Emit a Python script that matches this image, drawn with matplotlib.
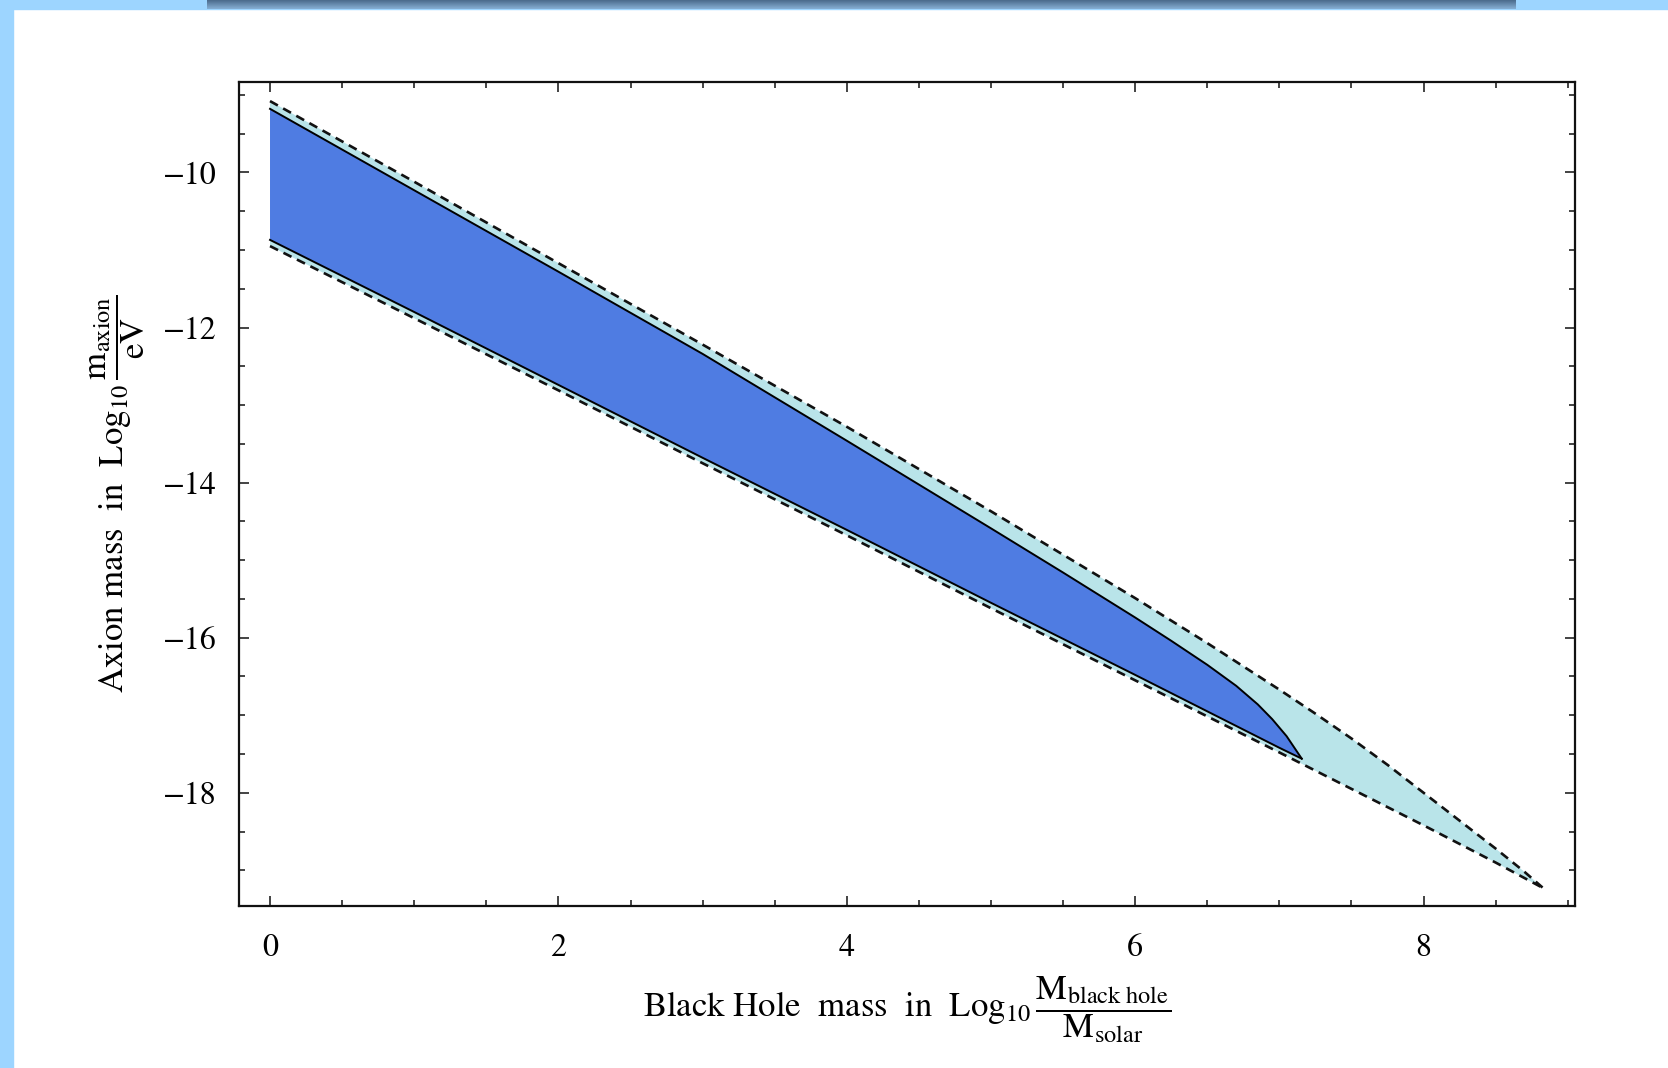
########## Axion mass window vs black hole mass ##########

import numpy as np
import matplotlib.pyplot as plt
from matplotlib.patches import Rectangle
from matplotlib.colors import LinearSegmentedColormap
from matplotlib.ticker import MultipleLocator

plt.rcParams['font.family'] = 'STIXGeneral'
plt.rcParams['mathtext.fontset'] = 'stix'

# inner (dark) band, solid boundaries
inner_up_x = [0, 1, 2, 3, 4, 5, 5.5, 6, 6.25, 6.5, 6.7, 6.85, 6.95, 7.05, 7.155]
inner_up_y = [-9.18, -10.23, -11.28, -12.34, -13.46, -14.59, -15.16, -15.74,
              -16.04, -16.35, -16.62, -16.86, -17.05, -17.27, -17.56]
inner_lo_x = [0, 1, 2, 3, 4, 5, 6, 7, 7.155]
inner_lo_y = [-10.87, -11.80, -12.74, -13.68, -14.61, -15.55, -16.48, -17.42, -17.56]

# outer (light) band, dashed boundaries
outer_up_x = [0, 1, 2, 3, 4, 5, 6, 6.5, 7, 7.25, 7.5, 7.75, 8, 8.5, 8.7, 8.83]
outer_up_y = [-9.08, -10.12, -11.17, -12.22, -13.28, -14.37, -15.49, -16.07,
              -16.67, -16.98, -17.30, -17.64, -18.00, -18.72, -19.02, -19.23]
outer_lo_x = [0, 1, 2, 3, 4, 5, 6, 7, 8, 8.5, 8.83]
outer_lo_y = [-10.95, -11.88, -12.81, -13.75, -14.68, -15.62, -16.55, -17.48,
              -18.42, -18.90, -19.23]

x_ticks = [0, 2, 4, 6, 8]
y_ticks = [-10, -12, -14, -16, -18]

dark = '#4f7ce2'
light = '#b9e4e9'
dashes = (0, (3.4, 2.3))

fig = plt.figure(figsize=(16.68, 10.68), dpi=100)

# slide decoration: blue strips on the left and top, shaded bar at the top
fig.patches.append(Rectangle((0, 0), 13/1668, 1, transform=fig.transFigure,
                             color='#9dd5ff', zorder=-2))
fig.patches.append(Rectangle((0, 1 - 9/1068), 1, 9/1068, transform=fig.transFigure,
                             color='#9dd5ff', zorder=-2))
bar = fig.add_axes([207/1668, 1 - 9/1068, (1516 - 207)/1668, 9/1068], zorder=5)
grad = np.linspace(0, 1, 20).reshape(-1, 1)
bar.imshow(grad, cmap=LinearSegmentedColormap.from_list('bar', ['#4b6b8c', '#86aed3']),
           aspect='auto')
bar.axis('off')

ax = fig.add_axes([239.3/1668, 1 - 906/1068, (1575 - 239.3)/1668, (906 - 81.7)/1068])

# filled regions
ax.fill(np.concatenate([outer_up_x, outer_lo_x[::-1]]),
        np.concatenate([outer_up_y, outer_lo_y[::-1]]),
        color=light, lw=0, zorder=1)
ax.fill(np.concatenate([inner_up_x, inner_lo_x[::-1]]),
        np.concatenate([inner_up_y, inner_lo_y[::-1]]),
        color=dark, lw=0, zorder=2)

# boundaries
ax.plot(inner_up_x, inner_up_y, color='black', lw=1.4, zorder=3)
ax.plot(inner_lo_x, inner_lo_y, color='black', lw=1.4, zorder=3)
ax.plot(outer_up_x, outer_up_y, color='#111111', lw=1.9, ls=dashes, zorder=4)
ax.plot(outer_lo_x, outer_lo_y, color='#111111', lw=1.9, ls=dashes, zorder=4)

ax.set_xlim(-0.213, 9.05)
ax.set_ylim(-19.46, -8.83)

ax.set_xticks(x_ticks)
ax.set_yticks(y_ticks)
ax.set_yticklabels(['\u2212' + str(abs(v)) for v in y_ticks])
ax.xaxis.set_minor_locator(MultipleLocator(0.5))
ax.yaxis.set_minor_locator(MultipleLocator(0.5))
ax.tick_params(which='both', direction='in', top=True, right=True, width=1.1, color='#111111')
ax.tick_params(which='major', length=7, labelsize=23)
ax.tick_params(which='minor', length=4.5)
ax.tick_params(axis='x', which='major', pad=20)
ax.tick_params(axis='y', which='major', pad=16)
for s in ax.spines.values():
    s.set_linewidth(1.6)
    s.set_color('#111111')

ax.set_xlabel(r'Black Hole  mass  in  $\mathrm{Log}_{10}\,\dfrac{\mathrm{M}_{\mathrm{black\ hole}}}{\mathrm{M}_{\mathrm{solar}}}$',
              fontsize=25, labelpad=8)
ax.set_ylabel(r'Axion mass  in  $\mathrm{Log}_{10}\,\dfrac{\mathrm{m}_{\mathrm{axion}}}{\mathrm{eV}}$',
              fontsize=25, labelpad=12)

plt.savefig('out.png', dpi=100)
